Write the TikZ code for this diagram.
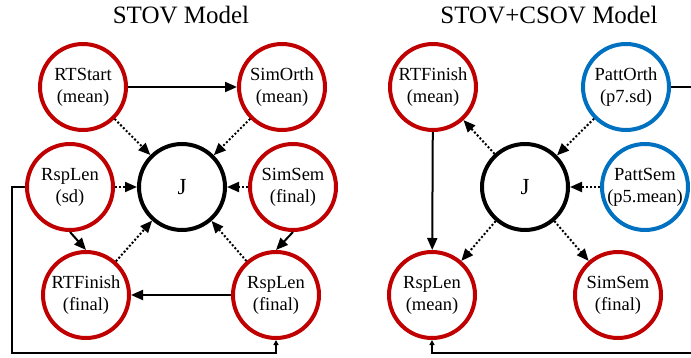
\documentclass[tikz,border=0pt]{standalone}
\usepackage{fontspec}
\setmainfont{Liberation Serif}
\usepackage{xcolor}
\usetikzlibrary{arrows.meta,positioning}
\definecolor{dkred}{RGB}{192,0,0}
\definecolor{dkblue}{RGB}{0,112,192}
\tikzset{ell/.style={circle,draw=dkred,line width=4pt,minimum size=86pt,inner sep=0pt,align=center,font=\fontsize{18.5}{22}\selectfont}}
\tikzset{bell/.style={ell,draw=dkblue}}
\tikzset{jay/.style={ell,draw=black,font=\fontsize{23}{27}\selectfont}}
\tikzset{ttl/.style={anchor=base,font=\fontsize{25}{30}\selectfont}}
\tikzset{dots/.style={line width=2pt,dash pattern=on 2pt off 2pt}}
\tikzset{solid2/.style={line width=2pt}}
\tikzset{loop/.style={line width=2pt,-{Triangle[length=5pt,width=5pt]}}}

\begin{document}
\begin{tikzpicture}[x=1pt,y=-1pt,>={Triangle[length=12pt,width=10pt]}]
        \useasboundingbox (0,0) rectangle (691,358);
        % STOV model
        \node[ttl] (t1) at (181,23.5) {STOV Model};
        \node[ell] (a) at (83,87) {RTStart\\(mean)};
        \node[ell] (b) at (282,87) {SimOrth\\(mean)};
        \node[jay] (c) at (182,187) {J};
        \node[ell] (d) at (70,187) {RspLen\\(sd)};
        \node[ell] (e) at (293,187) {SimSem\\(final)};
        \node[ell] (f) at (86,295) {RTFinish\\(final)};
        \node[ell] (g) at (276,295) {RspLen\\(final)};
        \coordinate (p) at (12,353);

        \draw [solid2,->] (a) to (b);
        \draw [dots,->] (a) to (c);
        \draw [dots,->] (b) to (c);
        \draw [dots,->] (d) to (c);
        \draw [dots,->] (e) to (c);
        \draw [dots,->] (f) to (c);
        \draw [dots,->] (g) to (c);
        \draw [solid2,->] (d.south) to (f.north);
        \draw [solid2,->] (e.south) to (g.north);
        \draw [solid2,->] (g) to (f);
        \draw [loop] (d.west) -| (p) -| (g.south);

        % STOV+CSOV model
        \node[ttl] (t2) at (549,23.5) {STOV+CSOV Model};
        \node[ell] (h) at (433,87) {RTFinish\\(mean)};
        \node[bell] (i) at (626,87) {PattOrth\\(p7.sd)};
        \node[jay] (j) at (525,187) {J};
        \node[bell] (k) at (645,187) {PattSem\\(p5.mean)};
        \node[ell] (l) at (432,295) {RspLen\\(mean)};
        \node[ell] (m) at (618,295) {SimSem\\(final)};
        \coordinate (q) at (691,87);
        \coordinate (r) at (691,353);

        \draw [dots,->] (j) to (h);
        \draw [dots,->] (i) to (j);
        \draw [dots,->] (k) to (j);
        \draw [dots,->] (j) to (l);
        \draw [dots,->] (j) to (m);
        \draw [solid2,->] (h) to (l);
        \draw [solid2] (i) to (q);
        \draw [loop] (r) -| (l.south);
    \end{tikzpicture}
\end{document}
